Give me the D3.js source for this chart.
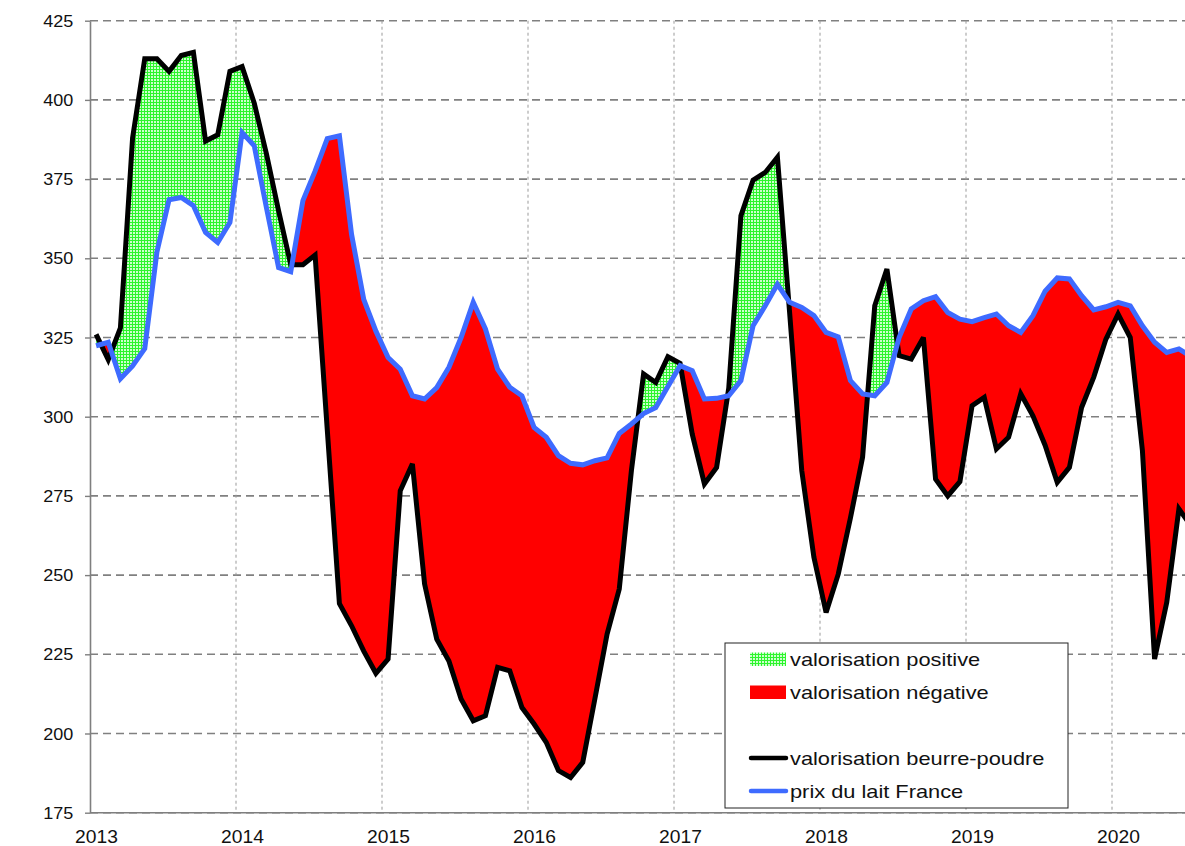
<!DOCTYPE html>
<html>
<head>
<meta charset="utf-8">
<script src="https://cdnjs.cloudflare.com/ajax/libs/d3/7.8.5/d3.min.js"></script>
<style>
    body { margin: 0; background: #fff; }
    svg { display: block; font-family: "Liberation Sans", Arial, sans-serif; }
</style>
</head>
<body>
<svg id="graphe"></svg>
<script>
// valeurs mensuelles de janvier 2013 à juillet 2020
var valorisation = [
    326, 318, 328, 388, 413, 413, 409, 414, 415, 387, 389, 409,
    410.5, 399, 383, 365, 348, 348, 351, 296, 241, 234, 226, 219,
    223.5, 276.6, 285.1, 247.2, 229.8, 222.9, 210.9, 204, 205.6, 220.9, 219.8, 208.2,
    203, 197.2, 188.3, 186.1, 190.9, 211, 231.4, 245.6, 283, 313.5, 310.8, 318.9,
    316.8, 294.5, 278.8, 284, 309, 363.4, 374.7, 377.1, 381.9, 333, 283, 255.6,
    238.2, 250.3, 268, 287.2, 335, 346.6, 319.3, 318.2, 325, 280.3, 275, 279.5,
    303.5, 306.1, 289.8, 293.5, 307.2, 300.3, 291, 279.3, 284, 302.9, 312.5, 324.5,
    332.4, 325, 289.3, 223.5, 241.4, 270.9, 265.5
];
var prixLait = [
    322.4, 323.5, 312, 316, 321.5, 352, 368.5, 369.2, 366.6, 358.2, 355, 361.3,
    389.7, 385.5, 366, 347.1, 345.8, 368.2, 377.5, 387.8, 388.7, 357.5, 337, 327,
    318.7, 315, 306.6, 305.6, 309.2, 315.6, 325, 336.1, 327.7, 315, 309.3, 306.6,
    296.6, 293.5, 287.7, 285.3, 284.8, 286.1, 287, 294.7, 297.7, 301, 302.9, 309.5,
    316.1, 314.5, 305.6, 305.8, 306.6, 311.4, 328.7, 335, 341.8, 336.1, 334.5, 331.9,
    326.6, 325.2, 311.4, 307.2, 306.6, 310.8, 325, 334, 336.6, 337.9, 332.9, 330.8,
    330, 331.3, 332.4, 328.7, 326.6, 331.9, 339.6, 343.8, 343.5, 338.2, 333.7, 334.7,
    336.1, 335, 328.7, 323.5, 320.3, 321.4, 319
];
var annees = ["2013", "2014", "2015", "2016", "2017", "2018", "2019", "2020"];
var yTicks = [175, 200, 225, 250, 275, 300, 325, 350, 375, 400, 425];
var legende = ["valorisation positive", "valorisation négative", "", "valorisation beurre-poudre", "prix du lait France"];

var largeur = 1185, hauteur = 846;
var svg = d3.select("#graphe").attr("width", largeur).attr("height", hauteur);
var margin = { top: 20.7, left: 90, bottom: 812.7 };

var x = d3.scaleLinear()
    .domain([0, 12 * annees.length])
    .range([margin.left, margin.left + 146 * annees.length]);
var y = d3.scaleLinear()
    .domain([175, 425])
    .range([margin.bottom, margin.top]);

var defs = svg.append("defs");

// motif pointillé vert
var motif = defs.append("pattern")
    .attr("id", "pointille")
    .attr("width", 3).attr("height", 3)
    .attr("patternUnits", "userSpaceOnUse");
motif.append("rect").attr("width", 3).attr("height", 3).attr("fill", "#2cf52c");
motif.append("rect").attr("x", 1).attr("y", 1).attr("width", 2).attr("height", 2).attr("fill", "#cdffcd");

function px(d, i) { return x(i + 0.5); }

// zones au-dessus et au-dessous du prix du lait
var auDessus = d3.area().x(px).y0(0).y1(function(d) { return y(d); });
var auDessous = d3.area().x(px).y0(hauteur).y1(function(d) { return y(d); });
defs.append("clipPath").attr("id", "clipHaut").append("path").attr("d", auDessus(prixLait));
defs.append("clipPath").attr("id", "clipBas").append("path").attr("d", auDessous(prixLait));
defs.append("clipPath").attr("id", "clipGraphe").append("rect")
    .attr("x", margin.left).attr("y", 0)
    .attr("width", largeur - margin.left).attr("height", margin.bottom);

// grille horizontale
svg.append("g").selectAll("line")
    .data(yTicks)
    .enter().append("line")
    .attr("x1", margin.left).attr("x2", largeur)
    .attr("y1", function(d) { return y(d); })
    .attr("y2", function(d) { return y(d); })
    .attr("stroke", "#808080")
    .attr("stroke-width", 1.6)
    .attr("stroke-dasharray", "8,5");

// grille verticale (années)
svg.append("g").selectAll("line")
    .data(annees.slice(1))
    .enter().append("line")
    .attr("x1", function(d, i) { return x(12 * (i + 1)); })
    .attr("x2", function(d, i) { return x(12 * (i + 1)); })
    .attr("y1", margin.top).attr("y2", margin.bottom)
    .attr("stroke", "#9a9a9a")
    .attr("stroke-width", 1)
    .attr("stroke-dasharray", "3,3");

var g = svg.append("g").attr("clip-path", "url(#clipGraphe)");

var entre = d3.area()
    .x(px)
    .y0(function(d, i) { return y(prixLait[i]); })
    .y1(function(d) { return y(d); });

g.append("path")
    .attr("d", entre(valorisation))
    .attr("fill", "url(#pointille)")
    .attr("clip-path", "url(#clipHaut)");
g.append("path")
    .attr("d", entre(valorisation))
    .attr("fill", "#ff0000")
    .attr("clip-path", "url(#clipBas)");

var ligne = d3.line().x(px).y(function(d) { return y(d); });

g.append("path")
    .attr("d", ligne(valorisation))
    .attr("fill", "none")
    .attr("stroke", "#000")
    .attr("stroke-width", 5)
    .attr("stroke-linejoin", "miter")
    .attr("stroke-miterlimit", 3);
g.append("path")
    .attr("d", ligne(prixLait))
    .attr("fill", "none")
    .attr("stroke", "#3e6bff")
    .attr("stroke-width", 5)
    .attr("stroke-linejoin", "miter")
    .attr("stroke-miterlimit", 3);

// axes (le texte de l'original est étiré horizontalement)
var axeY = svg.append("g")
    .attr("transform", "translate(" + margin.left + ",0)")
    .call(d3.axisLeft(y).tickValues(yTicks).tickSize(5).tickSizeOuter(0));
axeY.select(".domain").attr("stroke", "#7f7f7f").attr("stroke-width", 1.6);
axeY.selectAll(".tick line").attr("stroke", "#7f7f7f").attr("stroke-width", 1.4);
axeY.selectAll(".tick text")
    .attr("x", null)
    .attr("dy", "0.36em")
    .attr("transform", "translate(-16.7,0) scale(1.14,1)")
    .attr("fill", "#111")
    .style("font-size", "15.8px");

svg.append("line")
    .attr("x1", margin.left).attr("x2", largeur)
    .attr("y1", margin.bottom).attr("y2", margin.bottom)
    .attr("stroke", "#7f7f7f")
    .attr("stroke-width", 1.6);

svg.append("g").selectAll("text")
    .data(annees)
    .enter().append("text")
    .attr("transform", function(d, i) {
        return "translate(" + (x(12 * i) + 6.5) + "," + (margin.bottom + 30) + ") scale(1.1,1)";
    })
    .attr("text-anchor", "middle")
    .attr("fill", "#111")
    .style("font-size", "17.5px")
    .text(function(d) { return d; });

// légende
var leg = svg.append("g").attr("transform", "translate(725,643)");
leg.append("rect")
    .attr("width", 343).attr("height", 165)
    .attr("fill", "#fff")
    .attr("stroke", "#222")
    .attr("stroke-width", 1);

var items = leg.selectAll(".item")
    .data(legende)
    .enter().append("g")
    .attr("class", "item")
    .attr("transform", function(d, i) { return "translate(0," + (23 + 33 * i) + ")"; });

items.filter(function(d, i) { return i < 2; })
    .append("rect")
    .attr("x", 25).attr("y", -13.5)
    .attr("width", 36).attr("height", 13.5)
    .attr("fill", function(d, i) { return i === 0 ? "url(#pointille)" : "#ff0000"; });

items.filter(function(d, i) { return i > 2; })
    .append("line")
    .attr("x1", 26).attr("x2", 61)
    .attr("y1", -7).attr("y2", -7)
    .attr("stroke", function(d, i) { return i === 0 ? "#000" : "#3e6bff"; })
    .attr("stroke-width", 4.5)
    .attr("stroke-linecap", "round");

items.append("text")
    .attr("transform", "translate(65,0) scale(1.16,1)")
    .attr("fill", "#111")
    .style("font-size", "18.8px")
    .text(function(d) { return d; });
</script>
</body>
</html>
